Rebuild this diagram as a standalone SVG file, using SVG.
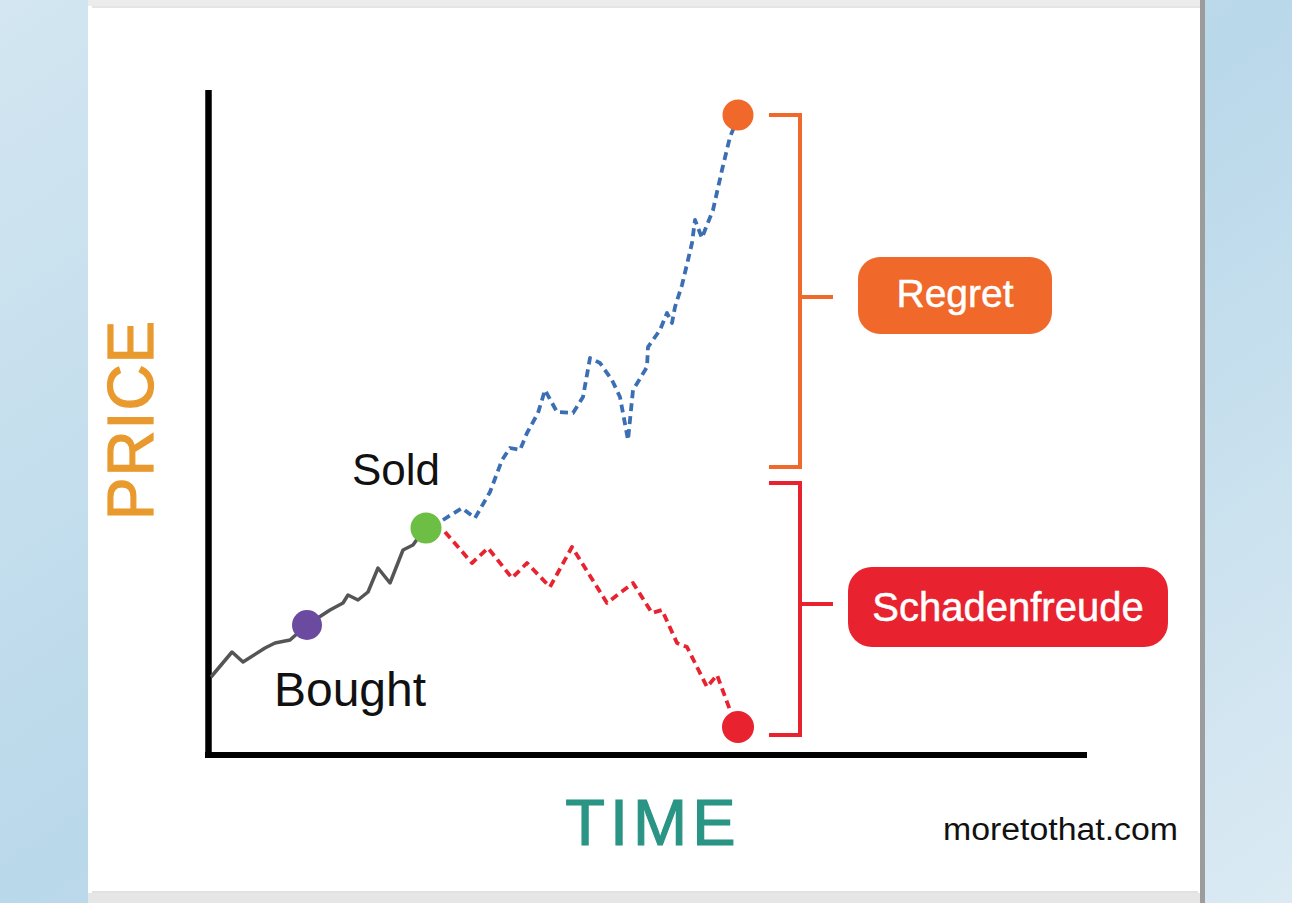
<svg xmlns="http://www.w3.org/2000/svg" width="1292" height="903" viewBox="0 0 1292 903">
<defs>
<linearGradient id="bg" x1="0" y1="0" x2="1" y2="1">
<stop offset="0" stop-color="#d3e6f1"/>
<stop offset="0.5" stop-color="#b9d8ea"/>
<stop offset="1" stop-color="#dbeaf3"/>
</linearGradient>
<style>
.lbl{font-family:"Liberation Sans",Arial,sans-serif;fill:#111}
.pill{font-family:"Liberation Sans",Arial,sans-serif;fill:#fff;stroke:#fff;stroke-width:0.5;text-anchor:middle}
.dash{fill:none;stroke-width:3.8;stroke-dasharray:8 5;stroke-linejoin:round}
.br{fill:none;stroke-width:4}
</style>
</defs>
<rect x="0" y="0" width="1292" height="903" fill="url(#bg)"/>
<rect x="88" y="0" width="1114" height="903" fill="#ffffff"/>
<rect x="88" y="0" width="1114" height="6" fill="#ececec"/>
<line x1="92" y1="7" x2="1200" y2="7" stroke="#dddddd" stroke-width="1.5"/>
<rect x="88" y="893" width="1114" height="10" fill="#e6e6e6"/>
<line x1="92" y1="892" x2="1198" y2="892" stroke="#d8d8d8" stroke-width="1.5"/>
<rect x="1200" y="0" width="5" height="903" fill="#9c9c9c"/>

<g id="axes">
<line x1="208.5" y1="90" x2="208.5" y2="758" stroke="#000" stroke-width="6.5"/>
<line x1="205" y1="755" x2="1087" y2="755" stroke="#000" stroke-width="6"/>
<text x="153" y="420" transform="rotate(-90 153 420)" text-anchor="middle" font-family="'Liberation Sans',Arial,sans-serif" font-size="64" fill="#E99A2E" stroke="#E99A2E" stroke-width="1.2" letter-spacing="1">PRICE</text>
<text x="653" y="845" text-anchor="middle" font-family="'Liberation Sans',Arial,sans-serif" font-size="65" fill="#2A9485" stroke="#2A9485" stroke-width="1.2" letter-spacing="5">TIME</text>
</g>

<g id="connectors">
<polyline fill="none" stroke="#555" stroke-width="3.5" stroke-linejoin="round" points="211,677 232,652 243,662 265,648 275,643 290,640 307,625 330,610 343,603 348,595 358,600 368,592 378,568 390,583 403,550 413,545 425,528"/>
<polyline class="dash" stroke="#3C6EB4" points="443,520 462,508 475,518 490,492 502,460 510,448 520,450 527,433 538,413 545,390 557,412 573,413 583,397 590,358 600,363 612,380 620,397 628,440 633,390 647,367 648,347 660,330 667,313 672,323 675,307 682,285 688,260 692,243 695,220 702,238 705,230 713,210 722,170 730,137 735,125"/>
<polyline class="dash" stroke="#E8232F" points="445,532 472,563 488,548 512,578 527,563 550,587 572,547 607,603 633,583 652,613 662,610 677,643 687,647 707,687 717,675 730,710 735,718"/>
<polyline class="br" stroke="#F0682A" points="769,115 800,115 800,467 769,467"/>
<line class="br" stroke="#F0682A" x1="800" y1="297" x2="833" y2="297"/>
<polyline class="br" stroke="#E8232F" points="769,483 800,483 800,735 769,735"/>
<line class="br" stroke="#E8232F" x1="800" y1="604" x2="833" y2="604"/>
</g>

<g id="bought">
<circle cx="307" cy="625" r="15" fill="#6A4BA0"/>
<text class="lbl" x="350" y="706" font-size="48" text-anchor="middle">Bought</text>
</g>
<g id="sold">
<circle cx="426" cy="528" r="15.5" fill="#6DBE45"/>
<text class="lbl" x="396" y="485" font-size="44" text-anchor="middle">Sold</text>
</g>
<g id="high">
<circle cx="738" cy="115" r="15.5" fill="#F0682A"/>
</g>
<g id="low">
<circle cx="738" cy="727" r="16" fill="#E8232F"/>
</g>
<g id="regret">
<rect x="858" y="257" width="194" height="77" rx="22" fill="#F0682A"/>
<text class="pill" x="955" y="307" font-size="39">Regret</text>
</g>
<g id="schadenfreude">
<rect x="848" y="567" width="320" height="80" rx="24" fill="#E8232F"/>
<text class="pill" x="1008" y="621" font-size="40">Schadenfreude</text>
</g>
<g id="credit">
<text class="lbl" x="943" y="840" font-size="31" textLength="235" lengthAdjust="spacingAndGlyphs">moretothat.com</text>
</g>
</svg>
